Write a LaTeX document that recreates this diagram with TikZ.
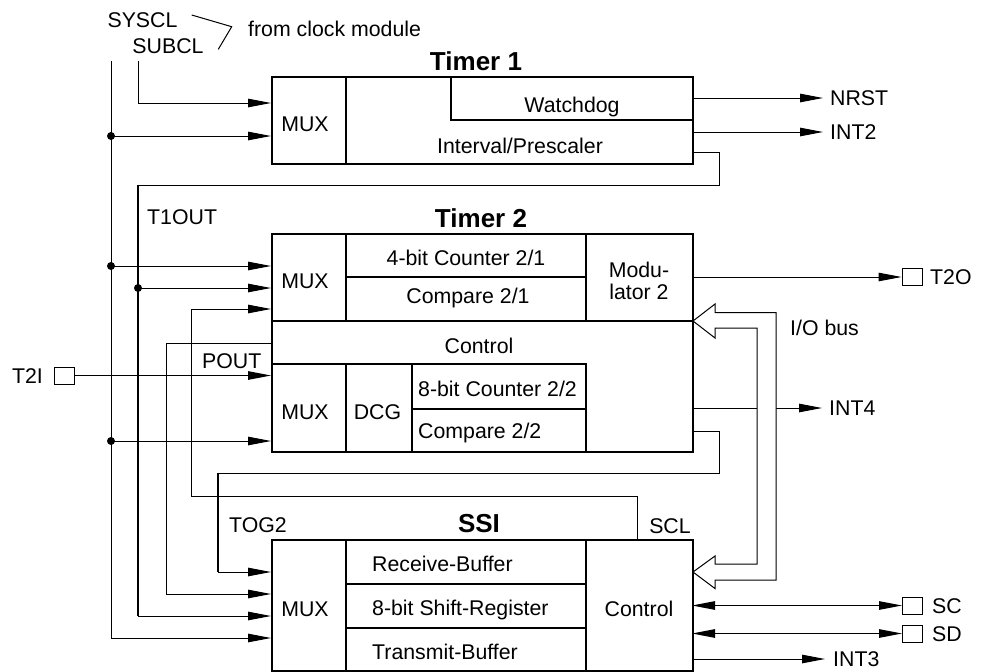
\documentclass[tikz,border=0pt]{standalone}
\usepackage{fontspec}
\setmainfont{Liberation Sans}
\usetikzlibrary{arrows.meta}
\begin{document}
\begin{tikzpicture}[x=1pt,y=-1pt,
  every node/.style={inner sep=0pt, font=\fontsize{21.3}{25}\selectfont},
  title/.style={font=\fontsize{26}{30}\selectfont\bfseries},
  boxline/.style={line width=2pt},
  wire/.style={line width=1pt},
  heavywire/.style={line width=1.7pt},
  arr/.style={-{Triangle[length=23pt,width=8.5pt]}},
  biarr/.style={{Triangle[length=23pt,width=8.5pt]}-{Triangle[length=23pt,width=8.5pt]}},
  junction/.style={circle, fill, minimum size=8pt, inner sep=0pt},
  pinbox/.style={draw, line width=1pt, minimum width=20pt, minimum height=17pt}]
\useasboundingbox (0,0) rectangle (986,672);

% ---------- clock sources ----------
\node[anchor=base] (syscl) at (142.5,27) {SYSCL};
\node[anchor=base] (subcl) at (168,53) {SUBCL};
\node[anchor=base west] (fromclk) at (248,36.7) {from clock module};
\coordinate (br1) at (191.7,15);
\coordinate (br2) at (231.7,26.7);
\coordinate (br3) at (218.3,49.3);
\draw[wire] (br1) -- (br2) -- (br3);

% ---------- block boxes ----------
\node[draw, boxline, anchor=north west, minimum width=421pt, minimum height=87pt] (timer1) at (271,76) {};
\node[draw, boxline, anchor=north west, minimum width=421pt, minimum height=218pt] (timer2) at (271,233) {};
\node[draw, boxline, anchor=north west, minimum width=421pt, minimum height=131pt] (ssi) at (271,539) {};

% Timer 1 internals
\draw[boxline] (346,76) -- (346,163);
\draw[boxline] (451,76) -- (451,120) -- (692,120);
% Timer 2 internals
\draw[boxline] (346,233) -- (346,321);
\draw[boxline] (586,233) -- (586,321);
\draw[boxline] (346,277) -- (586,277);
\draw[boxline] (271,321) -- (692,321);
\draw[boxline] (271,364) -- (586,364) -- (586,451);
\draw[boxline] (346,364) -- (346,451);
\draw[boxline] (412,364) -- (412,451);
\draw[boxline] (412,409) -- (586,409);
% SSI internals
\draw[boxline] (346,539) -- (346,670);
\draw[boxline] (586,539) -- (586,670);
\draw[boxline] (346,584) -- (586,584);
\draw[boxline] (346,628) -- (586,628);

% ---------- titles ----------
\node[title, anchor=base] (t1title) at (476,70) {Timer 1};
\node[title, anchor=base] (t2title) at (481,227) {Timer 2};
\node[title, anchor=base] (ssititle) at (479,532) {SSI};

% ---------- Timer 1 texts ----------
\node[anchor=base] (t1mux) at (305,131.7) {MUX};
\node[anchor=base] (wdog) at (572,112) {Watchdog};
\node[anchor=base] (ipre) at (520,153) {Interval/Prescaler};

% ---------- Timer 2 texts ----------
\node[anchor=base] (t2muxa) at (305,288) {MUX};
\node[anchor=base] (cnt21) at (466,265.7) {4-bit Counter 2/1};
\node[anchor=base] (cmp21) at (468,303.3) {Compare 2/1};
\node[anchor=base] (moda) at (639,277.5) {Modu-};
\node[anchor=base] (modb) at (639,299.5) {lator 2};
\node[anchor=base] (t2ctl) at (479,353) {Control};
\node[anchor=base] (t2muxb) at (305,419) {MUX};
\node[anchor=base] (dcg) at (377.5,419) {DCG};
\node[anchor=base west] (cnt22) at (418,396.7) {8-bit Counter 2/2};
\node[anchor=base west] (cmp22) at (418,438) {Compare 2/2};

% ---------- SSI texts ----------
\node[anchor=base] (ssimux) at (305,616.7) {MUX};
\node[anchor=base west] (rxbuf) at (372,571.7) {Receive-Buffer};
\node[anchor=base west] (shreg) at (372,615.7) {8-bit Shift-Register};
\node[anchor=base west] (txbuf) at (372,659) {Transmit-Buffer};
\node[anchor=base] (ssictl) at (639,616) {Control};

% ---------- signal labels ----------
\node[anchor=base west] (t1outl) at (147,224) {T1OUT};
\node[anchor=base west] (poutl) at (202,368) {POUT};
\node[anchor=base west] (tog2l) at (229,532) {TOG2};
\node[anchor=base] (scll) at (670,533) {SCL};
\node[anchor=base east] (t2il) at (43,383) {T2I};
\node[anchor=base west] (nrstl) at (830,105.5) {NRST};
\node[anchor=base west] (int2l) at (830,139.5) {INT2};
\node[anchor=base west] (t2ol) at (930,284.5) {T2O};
\node[anchor=base west] (iobusl) at (790,335) {I/O bus};
\node[anchor=base west] (int4l) at (829,415.5) {INT4};
\node[anchor=base west] (scl) at (932,613) {SC};
\node[anchor=base west] (sdl) at (932,641) {SD};
\node[anchor=base west] (int3l) at (833,666.5) {INT3};

% ---------- pins ----------
\node[pinbox] (t2ipin) at (64,375.5) {};
\node[pinbox] (t2opin) at (912,277) {};
\node[pinbox] (scpin) at (912.5,605.5) {};
\node[pinbox] (sdpin) at (912.5,633.5) {};

% ---------- coordinates ----------
\coordinate (sysTop) at (111,61);
\coordinate (subTop) at (138,61);
\coordinate (subBend) at (138,103);
\coordinate (t1inA) at (271,103);
\coordinate (t1inB) at (271,136);
\coordinate (t2inA) at (271,266);
\coordinate (t2inB) at (271,288);
\coordinate (t2inC) at (271,309);
\coordinate (t2ctlL) at (271,343);
\coordinate (t2inD) at (271,375.5);
\coordinate (t2inE) at (271,441);
\coordinate (ssiinA) at (271,572);
\coordinate (ssiinB) at (271,594);
\coordinate (ssiinC) at (271,616);
\coordinate (ssiinD) at (271,638);
\node[junction] (j1) at (111,136) {};
\node[junction] (j2) at (111,266) {};
\node[junction] (j3) at (138,288) {};
\node[junction] (j4) at (111,441) {};

% ---------- left wiring ----------
\draw[wire,arr] (sysTop) -- (111,638) -- (ssiinD);
\draw[wire,arr] (j1.center) -- (t1inB);
\draw[wire,arr] (j2.center) -- (t2inA);
\draw[wire,arr] (j4.center) -- (t2inE);
\draw[wire,arr] (subTop) -- (subBend) -- (t1inA);
% T1OUT
\coordinate (t1outA) at (692,152);
\draw[wire] (t1outA) -- (719,152) -- (719,185) -- (138,185);
\draw[heavywire] (138,185) -- (138,616);
\draw[wire,arr] (138,616) -- (ssiinC);
\draw[wire,arr] (j3.center) -- (t2inB);
% SCL
\coordinate (sclTop) at (637,539);
\draw[wire] (sclTop) -- (637,496) -- (191,496) -- (191,309);
\draw[wire,arr] (191,309) -- (t2inC);
% Timer2 control line
\draw[wire,arr] (t2ctlL) -- (166,343) -- (166,594) -- (ssiinB);
% T2I
\draw[wire,arr] (t2ipin.east) -- (t2inD);
% TOG2
\coordinate (tog2out) at (692,431);
\draw[wire] (tog2out) -- (719,431) -- (719,473) -- (218,473);
\draw[heavywire] (218,473) -- (218,572);
\draw[wire,arr] (218,572) -- (ssiinA);

% ---------- right wiring ----------
\draw[wire,arr] (692,98) -- (823,98);
\draw[wire,arr] (692,132) -- (823,132);
\draw[wire,arr] (692,277) -- (t2opin.west);
\draw[wire,arr] (692,408) -- (822,408);
\draw[wire,arr] (692,659) -- (825,659);
\draw[wire,biarr] (692,605.5) -- (scpin.west);
\draw[wire,biarr] (692,633.5) -- (sdpin.west);

% I/O bus (hollow double arrow)
\draw[wire, fill=white, line join=miter]
  (693,321) -- (715,304) -- (715,312.5) -- (776,312.5) -- (776,580) -- (715,580)
  -- (715,588.5) -- (693,572) -- (715,556) -- (715,564) -- (757,564) -- (757,328)
  -- (715,328) -- (715,338) -- cycle;
\end{tikzpicture}
\end{document}
